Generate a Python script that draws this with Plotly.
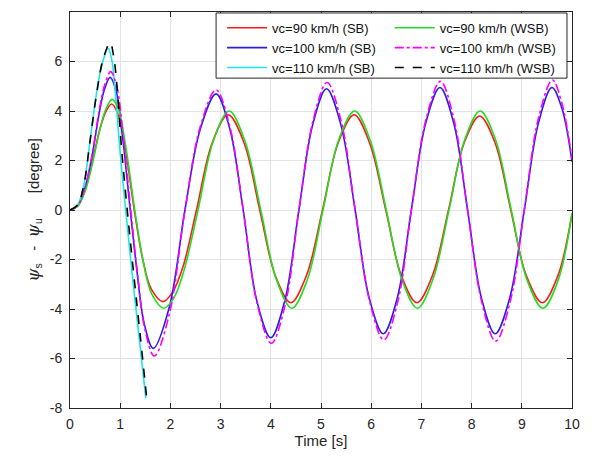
import plotly.graph_objects as go

# ---- data (time [s], psi_s - psi_u [degree]) ----
t_sb90 = [0, 0.15, 0.3, 0.45, 0.6, 0.72, 0.83, 0.95, 1.1, 1.28, 1.45, 1.62, 1.85, 2.05, 2.25, 2.52,
          2.83, 3.15, 3.47, 3.78, 4.09, 4.4, 4.71, 5.03, 5.34, 5.66, 5.97, 6.29, 6.6, 6.91, 7.22,
          7.54, 7.85, 8.16, 8.47, 8.78, 9.09, 9.41, 9.72, 10.0]
y_sb90 = [0, 0.15, 0.8, 2.0, 3.3, 4.0, 4.28, 3.9, 2.5, 0, -2.0, -3.2, -3.7, -3.3, -2.3, 0,
          2.7, 3.85, 2.7, 0, -2.65, -3.75, -2.65, 0, 2.7, 3.85, 2.7, 0, -2.65, -3.75, -2.65,
          0, 2.7, 3.8, 2.7, 0, -2.65, -3.75, -2.65, -0.15]

t_wsb90 = [0, 0.15, 0.3, 0.45, 0.6, 0.72, 0.84, 0.96, 1.1, 1.29, 1.46, 1.63, 1.87, 2.07, 2.27, 2.55,
           2.86, 3.17, 3.48, 3.80, 4.11, 4.42, 4.73, 5.04, 5.35, 5.67, 5.98, 6.30, 6.61, 6.92, 7.23,
           7.55, 7.86, 8.17, 8.48, 8.79, 9.10, 9.42, 9.73, 10.0]
y_wsb90 = [0, 0.14, 0.75, 1.9, 3.3, 4.1, 4.47, 4.1, 2.7, 0, -2.1, -3.4, -3.97, -3.55, -2.45, 0,
           2.82, 4.0, 2.82, 0, -2.8, -3.97, -2.8, 0, 2.82, 4.0, 2.82, 0, -2.8, -3.97, -2.8,
           0, 2.82, 4.0, 2.82, 0, -2.8, -3.97, -2.8, -0.13]

t_sb100 = [0, 0.15, 0.3, 0.45, 0.58, 0.69, 0.80, 0.92, 1.05, 1.2, 1.33, 1.48, 1.66, 1.975, 2.29,
           2.6, 2.91, 3.18, 3.45, 3.72, 4.0, 4.28, 4.56, 4.835, 5.11, 5.395, 5.68, 5.96, 6.24,
           6.52, 6.8, 7.085, 7.37, 7.645, 7.92, 8.195, 8.47, 8.76, 9.05, 9.33, 9.6, 9.8, 10.0]
y_sb100 = [0, 0.17, 0.9, 2.3, 3.9, 4.9, 5.36, 4.8, 2.9, 0, -2.4, -4.6, -5.59, -3.95, 0,
           3.3, 4.69, 3.3, 0, -3.65, -5.16, -3.65, 0, 3.45, 4.9, 3.45, 0, -3.55, -5.0,
           -3.55, 0, 3.5, 4.95, 3.5, 0, -3.55, -5.0, -3.55, 0, 3.5, 4.95, 4.1, 1.95]

t_wsb100 = [0, 0.15, 0.3, 0.45, 0.58, 0.69, 0.81, 0.93, 1.06, 1.21, 1.34, 1.49, 1.68, 1.985, 2.29,
            2.6, 2.91, 3.18, 3.45, 3.73, 4.01, 4.29, 4.56, 4.84, 5.12, 5.40, 5.68, 5.97, 6.25,
            6.53, 6.8, 7.09, 7.38, 7.65, 7.92, 8.2, 8.48, 8.77, 9.05, 9.33, 9.61, 9.8, 10.0]
y_wsb100 = [0, 0.17, 0.92, 2.35, 4.0, 5.05, 5.59, 5.0, 3.0, 0, -2.5, -4.8, -5.9, -4.15, 0,
            3.4, 4.85, 3.4, 0, -3.8, -5.39, -3.8, 0, 3.6, 5.15, 3.6, 0, -3.7, -5.25,
            -3.7, 0, 3.65, 5.2, 3.65, 0, -3.7, -5.3, -3.7, 0, 3.7, 5.25, 4.3, 2.05]

t_sb110 = [0, 0.15, 0.27, 0.4, 0.52, 0.64, 0.76, 0.83, 0.90, 1.0, 1.11, 1.25, 1.38, 1.51]
y_sb110 = [0, 0.2, 0.95, 2.8, 4.6, 5.9, 6.53, 6.1, 4.8, 2.3, 0, -2.8, -5.2, -7.6]

t_wsb110 = [0, 0.15, 0.27, 0.4, 0.53, 0.66, 0.80, 0.87, 0.94, 1.03, 1.14, 1.27, 1.40, 1.53]
y_wsb110 = [0, 0.2, 0.95, 2.8, 4.7, 6.1, 6.76, 6.2, 4.9, 2.4, 0, -2.6, -5.1, -7.65]

x_ticks = [0, 1, 2, 3, 4, 5, 6, 7, 8, 9, 10]
y_ticks = [-8, -6, -4, -2, 0, 2, 4, 6, 8]

FONT = "Liberation Sans, Arial, sans-serif"
TXT = "#262626"

fig = go.Figure()

def add(t, y, name, color, dash, legend):
    fig.add_trace(go.Scatter(
        x=t, y=y, mode="lines", name=name, legend=legend,
        line=dict(color=color, width=1.6, dash=dash, shape="spline", smoothing=1.0),
    ))

add(t_sb90, y_sb90, "vc=90 km/h (SB)", "#ff1a1a", "solid", "legend")
add(t_sb100, y_sb100, "vc=100 km/h (SB)", "#2a1fe0", "solid", "legend")
add(t_sb110, y_sb110, "vc=110 km/h (SB)", "#1ee6e6", "solid", "legend")
add(t_wsb90, y_wsb90, "vc=90 km/h (WSB)", "#22dd22", "solid", "legend2")
add(t_wsb100, y_wsb100, "vc=100 km/h (WSB)", "#ff00ff", "dashdot", "legend2")
add(t_wsb110, y_wsb110, "vc=110 km/h (WSB)", "#000000", "dash", "legend2")

axis_common = dict(
    showgrid=True, gridcolor="#e3e3e3", gridwidth=1, automargin=False,
    zeroline=False, showline=True, linecolor="#262626", linewidth=1,
    mirror="ticks", ticks="inside", ticklen=5, tickcolor="#262626",
    tickfont=dict(family=FONT, size=14, color=TXT),
)

NB = "\u00a0"
PSI = "<span style='font-size:17px;font-family:DejaVu Serif;font-style:italic'>ψ</span>"
ytitle = (PSI + "<sub>s</sub>" + NB * 3 + "-" + NB * 2 + PSI + "<sub>u</sub>"
          + NB * 6 + "[degree]" + NB * 7)

legend_common = dict(xanchor="left", yanchor="top", bgcolor="rgba(0,0,0,0)", borderwidth=0,
                     font=dict(family=FONT, size=13, color="#111111"),
                     tracegroupgap=0, itemwidth=40)

fig.update_layout(
    width=590, height=453,
    margin=dict(l=62, r=26, t=4, b=53),
    paper_bgcolor="white", plot_bgcolor="white",
    font=dict(family=FONT, color=TXT),
    xaxis=dict(range=[0, 10], tickvals=x_ticks, ticktext=[str(v) for v in x_ticks],
               ticklabelstandoff=3,
               title=dict(text="Time [s]", font=dict(family=FONT, size=15, color=TXT), standoff=4),
               **axis_common),
    yaxis=dict(range=[-8, 8], tickvals=y_ticks, ticktext=[str(v) for v in y_ticks],
               ticklabelstandoff=4,
               title=dict(text=ytitle, font=dict(family=FONT, size=15, color=TXT), standoff=6),
               **axis_common),
    legend=dict(x=0.303, y=0.998, **legend_common),
    legend2=dict(x=0.637, y=0.998, **legend_common),
    shapes=[dict(type="rect", xref="paper", yref="paper",
                 x0=0.291, x1=0.990, y0=0.833, y1=0.9975,
                 line=dict(color="#262626", width=1), fillcolor="white", layer="above")],
    showlegend=True,
)

fig.write_html("out.html")
